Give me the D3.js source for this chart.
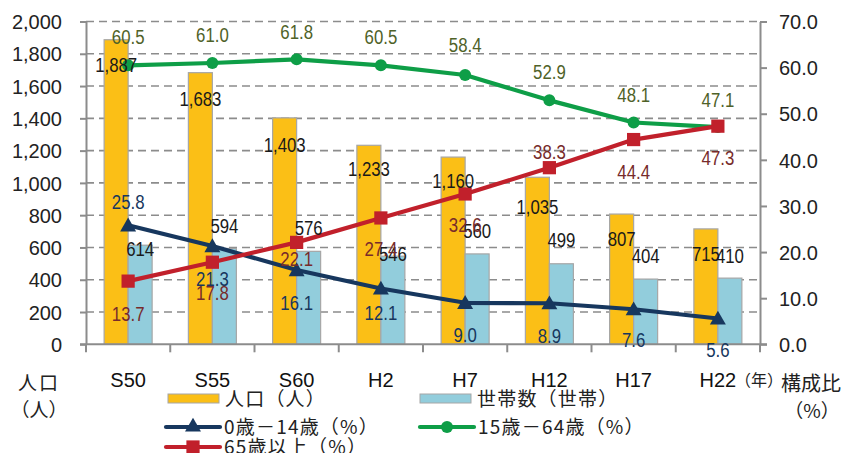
<!DOCTYPE html>
<html>
<head>
<meta charset="utf-8">
<script src="https://cdn.jsdelivr.net/npm/d3@7"></script>
<style>
  html, body { margin: 0; padding: 0; background: #fff; }
  svg { display: block; }
  .tick-label { font-family: "Liberation Sans", Arial, sans-serif; font-size: 20px; fill: #222; }
  .cat-label { font-family: "Liberation Sans", Arial, sans-serif; font-size: 20px; fill: #111; }
  .val { font-family: "Liberation Sans", Arial, sans-serif; font-size: 21px; }
  .jp { font-family: "Noto Sans CJK JP", sans-serif; fill: #222; }
</style>
</head>
<body>
<svg id="chart" width="843" height="453"></svg>
<script>
// Census years (Showa / Heisei)
const years = ["S50", "S55", "S60", "H2", "H7", "H12", "H17", "H22"];
// Population (persons) and households
const population = [1887, 1683, 1403, 1233, 1160, 1035, 807, 715];
const households = [614, 594, 576, 546, 560, 499, 404, 410];
// Age composition (%)
const age0to14 = [25.8, 21.3, 16.1, 12.1, 9.0, 8.9, 7.6, 5.6];
const age15to64 = [60.5, 61.0, 61.8, 60.5, 58.4, 52.9, 48.1, 47.1];
const age65plus = [13.7, 17.8, 22.1, 27.4, 32.6, 38.3, 44.4, 47.3];
// Axis ticks
const leftTicks = [0, 200, 400, 600, 800, 1000, 1200, 1400, 1600, 1800, 2000];
const rightTicks = [0, 10, 20, 30, 40, 50, 60, 70];

// Vertical nudges of the value labels (px, relative to the mark)
const labelShift = {
  pop: [25, 26, 27, 23, 23, 29, 24, 25],
  hh: [3, -23, -24, -3, -23, -24, -24, -23],
  a0: [-24, 32, 32, 24, 32, 32, 30, 31],
  a15: [-29, -29, -28, -29, -30, -29, -28, -28],
  a65: [32, 30, 16, 31, 31, -16, 32, 31]
};

const colors = {
  pop: "#FBBF16", hh: "#92CDDC", barStroke: "#A6A6A6",
  a0: "#17375E", a15: "#0E9E47", a65: "#C1202B",
  a0Text: "#17375E", a15Text: "#4F6228", a65Text: "#772B2B",
  grid: "#8C8C8C", axis: "#8C8C8C"
};

const svg = d3.select("#chart");
const plot = { left: 86, right: 760, top: 21.5, bottom: 344.3 };

const x = d3.scaleBand().domain(years).range([plot.left, plot.right]).paddingInner(0).paddingOuter(0);
const yL = d3.scaleLinear().domain([0, 2000]).range([plot.bottom, plot.top]);
const yR = d3.scaleLinear().domain([0, 70]).range([plot.bottom, plot.top]);
const barW = 24;
const cx = d => x(d) + x.bandwidth() / 2;

// Dashed horizontal gridlines
svg.append("g").selectAll("line")
  .data(leftTicks.filter(t => t > 0))
  .join("line")
  .attr("x1", plot.left).attr("x2", plot.right - 3)
  .attr("y1", d => yL(d)).attr("y2", d => yL(d))
  .attr("stroke", colors.grid).attr("stroke-width", 1.6)
  .attr("stroke-dasharray", "8,5");

// Bars
const bars = svg.append("g");
bars.selectAll("rect.pop").data(years).join("rect").attr("class", "pop")
  .attr("x", d => cx(d) - barW).attr("width", barW)
  .attr("y", (d, i) => yL(population[i]))
  .attr("height", (d, i) => yL(0) - yL(population[i]))
  .attr("fill", colors.pop).attr("stroke", colors.barStroke).attr("stroke-width", 1.2);
bars.selectAll("rect.hh").data(years).join("rect").attr("class", "hh")
  .attr("x", d => cx(d)).attr("width", barW)
  .attr("y", (d, i) => yL(households[i]))
  .attr("height", (d, i) => yL(0) - yL(households[i]))
  .attr("fill", colors.hh).attr("stroke", colors.barStroke).attr("stroke-width", 1.2);

// Axes
function styleAxis(g) {
  g.select(".domain").attr("stroke", colors.axis).attr("stroke-width", 2);
  g.selectAll(".tick line").attr("stroke", colors.axis).attr("stroke-width", 2);
  g.selectAll(".tick text").attr("class", "tick-label").attr("fill", null);
}
const axL = svg.append("g").attr("transform", `translate(${plot.left},0)`)
  .call(d3.axisLeft(yL).tickValues(leftTicks).tickFormat(d3.format(",")).tickSizeInner(6).tickSizeOuter(0).tickPadding(18));
styleAxis(axL);
axL.selectAll(".tick text").attr("x", -24).attr("dy", "0.36em");

const axR = svg.append("g").attr("transform", `translate(${plot.right},0)`)
  .call(d3.axisRight(yR).tickValues(rightTicks).tickFormat(d3.format(".1f")).tickSizeInner(7).tickSizeOuter(0).tickPadding(12));
styleAxis(axR);
axR.selectAll(".tick text").attr("x", 19).attr("dy", "0.36em");

// Bottom axis: ticks on category boundaries
const axB = svg.append("g");
axB.append("line").attr("x1", plot.left - 6).attr("x2", plot.right + 7)
  .attr("y1", plot.bottom).attr("y2", plot.bottom)
  .attr("stroke", colors.axis).attr("stroke-width", 2);
axB.selectAll("line.tk").data(years.concat(["end"])).join("line").attr("class", "tk")
  .attr("x1", (d, i) => i < years.length ? x(d) : plot.right)
  .attr("x2", (d, i) => i < years.length ? x(d) : plot.right)
  .attr("y1", plot.bottom).attr("y2", plot.bottom + 8)
  .attr("stroke", colors.axis).attr("stroke-width", 2);
axB.selectAll("text").data(years).join("text")
  .attr("class", "cat-label")
  .attr("x", d => cx(d)).attr("y", 387)
  .attr("text-anchor", "middle").text(d => d);

// Lines with markers
const line = d3.line().x((d, i) => cx(years[i])).y(d => yR(d));
const tri = d3.symbol().type(d3.symbolTriangle).size(110);
const sq = d3.symbol().type(d3.symbolSquare).size(175);

function series(values, color, marker) {
  const g = svg.append("g");
  g.append("path").datum(values).attr("d", line)
    .attr("fill", "none").attr("stroke", color).attr("stroke-width", 4.2).attr("stroke-linejoin", "round");
  if (marker === "circle") {
    g.selectAll("circle").data(values).join("circle")
      .attr("cx", (d, i) => cx(years[i])).attr("cy", d => yR(d)).attr("r", 6).attr("fill", color);
  } else {
    g.selectAll("path.m").data(values).join("path").attr("class", "m")
      .attr("transform", (d, i) => `translate(${cx(years[i])},${yR(d) + (marker === "tri" ? 1.5 : 0)})`)
      .attr("d", marker === "tri" ? tri : sq).attr("fill", color);
  }
}
series(age15to64, colors.a15, "circle");
series(age0to14, colors.a0, "tri");
series(age65plus, colors.a65, "square");

// Value labels (narrowed digits)
const labels = svg.append("g");
function valueLabels(values, xOf, yOf, shift, color, fmt) {
  labels.append("g").selectAll("text").data(values).join("text")
    .attr("class", "val")
    .attr("transform", (d, i) => `translate(${xOf(i)},${yOf(d) + shift[i] + 7.5}) scale(0.8,1)`)
    .attr("text-anchor", "middle")
    .attr("fill", color)
    .text(fmt);
}
valueLabels(population, i => cx(years[i]) - barW / 2, d => yL(d), labelShift.pop, "#1a1a1a", d3.format(","));
valueLabels(households, i => cx(years[i]) + barW / 2, d => yL(d), labelShift.hh, "#1a1a1a", d3.format(","));
valueLabels(age15to64, i => cx(years[i]), d => yR(d), labelShift.a15, colors.a15Text, d3.format(".1f"));
valueLabels(age65plus, i => cx(years[i]), d => yR(d), labelShift.a65, colors.a65Text, d3.format(".1f"));
valueLabels(age0to14, i => cx(years[i]), d => yR(d), labelShift.a0, colors.a0Text, d3.format(".1f"));

// Axis titles
const titles = svg.append("g").attr("class", "jp");
titles.append("text").attr("x", 39).attr("y", 390).attr("text-anchor", "middle")
  .attr("font-size", 19).attr("letter-spacing", 2).text("人口");
titles.append("text").attr("x", 39).attr("y", 417).attr("text-anchor", "middle")
  .attr("font-size", 19).text("（人）");
titles.append("text").attr("x", 735).attr("y", 386)
  .attr("font-size", 16).text("（年）");
titles.append("text").attr("x", 811).attr("y", 391).attr("text-anchor", "middle")
  .attr("font-size", 20).text("構成比");
titles.append("text").attr("x", 812).attr("y", 418).attr("text-anchor", "middle")
  .attr("font-size", 19).text("（%）");

// Legend
const legend = svg.append("g").attr("class", "jp");
const legendItems = [
  { label: "人口（人）", kind: "bar", color: colors.pop, x: 168, y: 399 },
  { label: "世帯数（世帯）", kind: "bar", color: colors.hh, x: 420, y: 399 },
  { label: "0歳－14歳（%）", kind: "tri", color: colors.a0, x: 166, y: 427 },
  { label: "15歳－64歳（%）", kind: "circle", color: colors.a15, x: 420, y: 427 },
  { label: "65歳以上（%）", kind: "square", color: colors.a65, x: 166, y: 447 }
];
legendItems.forEach(it => {
  const g = legend.append("g");
  if (it.kind === "bar") {
    g.append("rect").attr("x", it.x).attr("y", it.y - 5).attr("width", 51).attr("height", 9)
      .attr("fill", it.color).attr("stroke", colors.barStroke).attr("stroke-width", 1);
  } else {
    g.append("line").attr("x1", it.x).attr("x2", it.x + 54).attr("y1", it.y).attr("y2", it.y)
      .attr("stroke", it.color).attr("stroke-width", 4.2).attr("stroke-linecap", "round");
    const mx = it.x + 27;
    if (it.kind === "circle") g.append("circle").attr("cx", mx).attr("cy", it.y).attr("r", 6).attr("fill", it.color);
    else g.append("path").attr("transform", `translate(${mx},${it.y})`)
      .attr("d", it.kind === "tri" ? tri : sq).attr("fill", it.color);
  }
  g.append("text").attr("x", it.x + (it.kind === "bar" ? 57 : 58)).attr("y", it.y + 7)
    .attr("font-size", 19).attr("letter-spacing", 1.2).text(it.label);
});
</script>
</body>
</html>
